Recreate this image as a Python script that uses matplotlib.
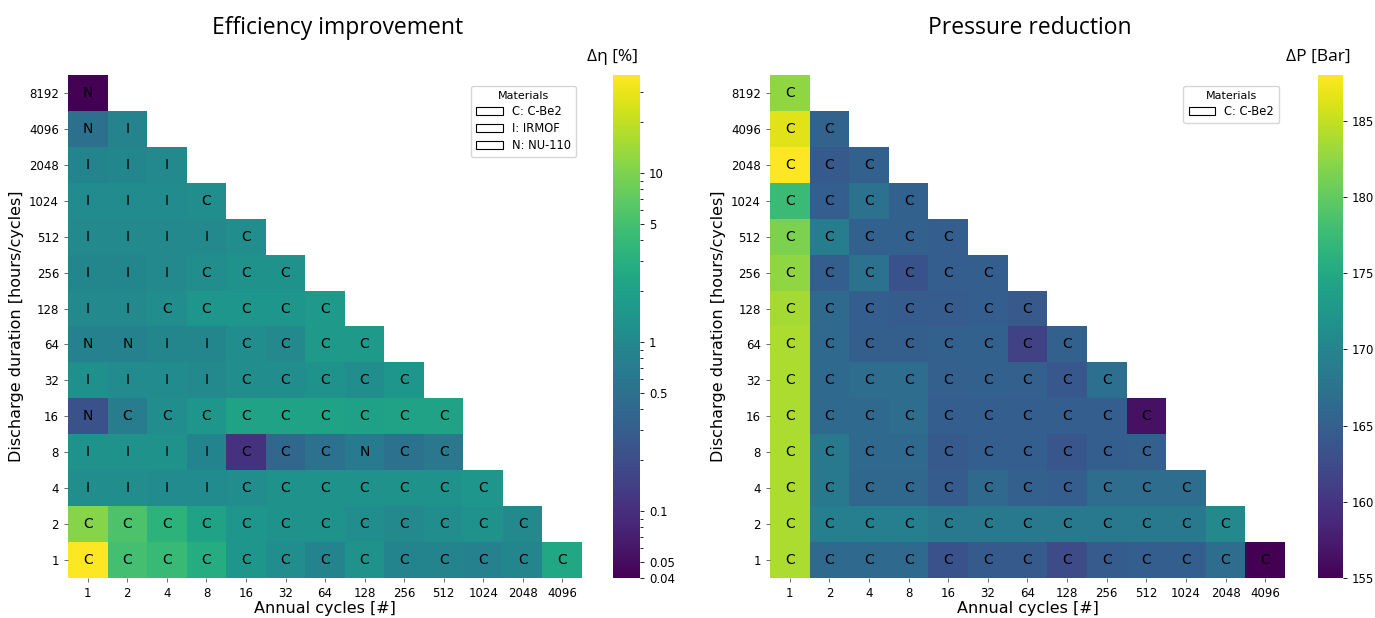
import numpy as np
import matplotlib
matplotlib.use("Agg")
import matplotlib.pyplot as plt
from matplotlib.colors import LogNorm, Normalize
from matplotlib.patches import Patch

# axes categories
cycles = [1, 2, 4, 8, 16, 32, 64, 128, 256, 512, 1024, 2048, 4096]
durations = [8192, 4096, 2048, 1024, 512, 256, 128, 64, 32, 16, 8, 4, 2, 1]  # top -> bottom

# efficiency improvement [%], one list per duration row (top -> bottom)
eff_vals = [
    [0.04],
    [0.5, 0.85],
    [0.88, 0.93, 1.0],
    [1.1, 1.1, 1.1, 1.15],
    [1.0, 1.0, 1.0, 1.0, 1.15],
    [0.93, 0.93, 1.0, 1.15, 1.35, 1.35],
    [1.0, 1.0, 1.15, 1.45, 1.45, 1.45, 1.65],
    [0.82, 0.82, 0.93, 0.93, 1.15, 1.0, 1.6, 1.6],
    [1.25, 1.1, 1.1, 1.0, 1.15, 1.15, 1.35, 1.15, 1.45],
    [0.22, 0.72, 1.15, 1.45, 2.1, 2.1, 2.1, 2.0, 2.1, 2.1],
    [1.35, 1.35, 1.35, 0.88, 0.11, 0.38, 0.52, 0.68, 0.52, 0.6],
    [1.15, 1.15, 1.1, 1.1, 1.15, 1.35, 1.35, 1.35, 1.35, 1.35, 1.45],
    [11, 5.6, 3.4, 2.1, 1.45, 1.35, 1.35, 1.15, 1.0, 1.15, 1.35, 1.0],
    [38, 4.9, 4.2, 2.8, 1.45, 1.15, 0.88, 1.35, 0.88, 0.88, 0.82, 0.93, 2.4],
]
eff_mat = [
    "N", "NI", "III", "IIIC", "IIIIC", "IIICCC", "IICCCCC", "NNIICCCC",
    "IIIICCCCC", "NCCCCCCCCC", "IIIICCCNCC", "IIIICCCCCCC",
    "CCCCCCCCCCCC", "CCCCCCCCCCCCC",
]

# pressure reduction [bar]
dp_vals = [
    [182.5],
    [186.5, 165.5],
    [188, 164.3, 165.3],
    [177.5, 164.8, 167.3, 165.3],
    [181.5, 169, 165.3, 165.3, 164.8],
    [182.5, 164.8, 167.3, 163.3, 164.8, 164.8],
    [183.5, 166.3, 164.8, 164.6, 164.6, 164.8, 164.2],
    [184, 166.3, 165, 165, 165.3, 165.3, 161.5, 165.3],
    [184, 166.3, 166.8, 166.8, 165.1, 165.3, 165.1, 164, 167.1],
    [184, 166.3, 166.3, 166.8, 164.8, 164.8, 164.8, 164.8, 164.8, 156.5],
    [184, 168.3, 166.3, 166.3, 164.3, 164.8, 164.8, 163.8, 164.8, 165.1],
    [184, 168.3, 166.1, 166.1, 164.6, 166.3, 165.1, 164.8, 166.8, 166.8, 166.8],
    [184, 169.3, 169.3, 169.3, 168.3, 168.3, 168.3, 168.3, 168.3, 168.3, 168.3, 170.5],
    [184, 166.3, 166.3, 166.3, 163.3, 164.3, 164.3, 162.6, 164.6, 164.8, 164.8, 166.8, 155],
]
dp_mat = ["C" * len(r) for r in dp_vals]


def to_grid(rows):
    g = np.full((len(durations), len(cycles)), np.nan)
    for i, r in enumerate(rows):
        g[i, :len(r)] = r
    return g


def heat(ax, cax, grid, mats, norm, cbtitle, legend_items):
    ax.imshow(np.ma.masked_invalid(grid), cmap="viridis", norm=norm,
              aspect="auto", interpolation="nearest")
    for i, r in enumerate(mats):
        for j, m in enumerate(r):
            ax.text(j, i, m, ha="center", va="center", fontsize=10, color="black")
    ax.set_xticks(range(len(cycles)))
    ax.set_xticklabels([str(c) for c in cycles], fontsize=8.5)
    ax.set_yticks(range(len(durations)))
    ax.set_yticklabels([str(d) for d in durations], fontsize=8.5)
    ax.tick_params(length=3, width=0.6, color="#555555")
    for s in ax.spines.values():
        s.set_visible(False)
    ax.set_xlabel("Annual cycles [#]", fontsize=11.5, labelpad=1)
    ax.set_ylabel("Discharge duration [hours/cycles]", fontsize=11.5, labelpad=4)
    handles = [Patch(facecolor="none", edgecolor="black", linewidth=0.8, label=l)
               for l in legend_items]
    leg = ax.legend(handles=handles, title="Materials", loc="upper right",
                    fontsize=8.3, title_fontsize=8, handlelength=2.3,
                    handleheight=0.65, borderpad=0.45, labelspacing=0.35,
                    bbox_to_anchor=(1.0, 0.99))
    leg.get_frame().set_edgecolor("#cccccc")
    cb = plt.colorbar(ax.images[0], cax=cax)
    cb.outline.set_visible(False)
    cax.tick_params(labelsize=8.5, length=3, width=0.6)
    cax.text(0.0, 1.02, cbtitle, transform=cax.transAxes, ha="center",
             va="bottom", fontsize=12.5, family="Open Sans")
    return cb


fig = plt.figure(figsize=(13.75, 6.18), dpi=100)
ax1 = fig.add_axes([0.0495, 0.0647, 0.3738, 0.8139])
cax1 = fig.add_axes([0.4458, 0.0647, 0.0196, 0.8139])
ax2 = fig.add_axes([0.56, 0.0647, 0.3745, 0.8139])
cax2 = fig.add_axes([0.9585, 0.0647, 0.0182, 0.8139])

cb1 = heat(ax1, cax1, to_grid(eff_vals), eff_mat, LogNorm(vmin=0.04, vmax=38),
           "Δη [%]", ["C: C-Be2", "I: IRMOF", "N: NU-110"])
cb1.set_ticks([0.04, 0.05, 0.1, 0.5, 1, 5, 10])
cb1.set_ticklabels(["0.04", "0.05", "0.1", "0.5", "1", "5", "10"])

cb2 = heat(ax2, cax2, to_grid(dp_vals), dp_mat, Normalize(vmin=155, vmax=188),
           "ΔP [Bar]", ["C: C-Be2"])
cb2.set_ticks([155, 160, 165, 170, 175, 180, 185])

fig.text(338 / 1375, 1 - 28 / 618, "Efficiency improvement", ha="center",
         va="center", fontsize=16.5, family="Open Sans")
fig.text(1030 / 1375, 1 - 28 / 618, "Pressure reduction", ha="center",
         va="center", fontsize=16.5, family="Open Sans")

fig.savefig("out.png", dpi=100)
